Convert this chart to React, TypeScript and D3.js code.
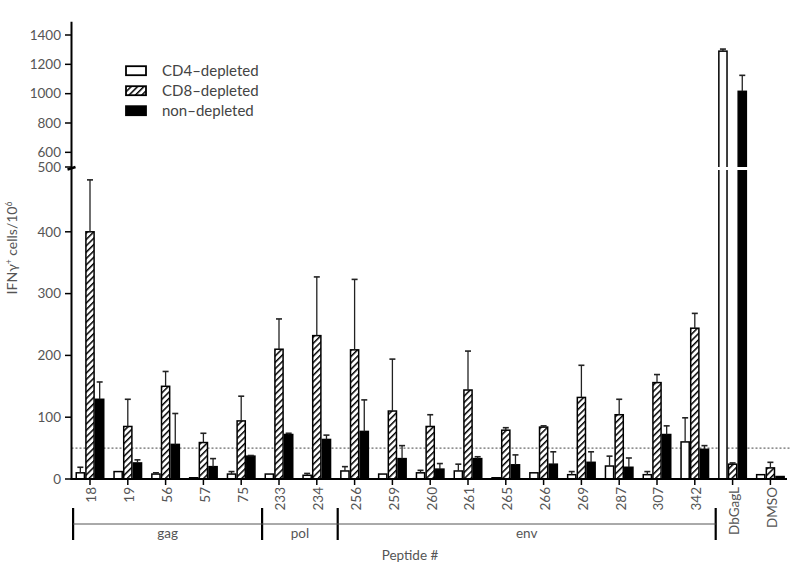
import React from 'react';
import * as d3 from 'd3';

const categories = ['18', '19', '56', '57', '75', '233', '234', '256', '259', '260', '261', '265', '266', '269', '287', '307', '342', 'DbGagL', 'DMSO'];
const cd4Depleted = [10, 12, 8, 2, 8, 8, 6, 13, 8, 10, 13, 2, 10, 7, 21, 7, 60, 1290, 7];
const cd4Sem = [9, 0, 2, 0, 4, 0, 3, 7, 0, 4, 11, 0, 0, 5, 16, 5, 39, 14, 0];
const cd8Depleted = [400, 85, 150, 59, 94, 210, 232, 209, 110, 85, 144, 79, 84, 132, 104, 156, 244, 24, 18];
const cd8Sem = [84, 44, 24, 15, 40, 49, 95, 114, 84, 19, 63, 4, 2, 52, 25, 13, 24, 2, 9];
const nonDepleted = [129, 26, 56, 20, 37, 72, 64, 77, 33, 16, 33, 23, 24, 27, 19, 72, 48, 1016, 4];
const nonSem = [28, 5, 50, 13, 1, 2, 7, 51, 21, 9, 3, 16, 20, 17, 15, 14, 6, 109, 0];

const groupNames = ['gag', 'pol', 'env'];
const groupSizes = [5, 2, 10];
const yTicksLow = [0, 100, 200, 300, 400];
const yTicksHigh = [500, 600, 800, 1000, 1200, 1400];
const seriesNames = ['CD4\u2013depleted', 'CD8\u2013depleted', 'non\u2013depleted'];
const threshold = 50;

const FONT = "Lato, 'Open Sans', sans-serif";
const TXT = '#555';

export default function App() {
  const x = d3.scalePoint<string>().domain(categories).range([90, 770.4]);
  const step = x.step();
  const sub = d3.scaleBand<number>().domain([0, 1, 2]).range([-14.5, 14.5]);
  const bw = sub.bandwidth();
  const yLow = d3.scaleLinear().domain([0, 500]).range([479, 170]);
  const yHigh = d3.scaleLinear().domain([500, 1400]).range([167, 35]);
  const y = (v: number) => (v <= 500 ? yLow(v) : yHigh(v));
  const base = yLow(0);
  const axisX = 71.5;

  const series = [
    { vals: cd4Depleted, sem: cd4Sem, fill: '#fff' },
    { vals: cd8Depleted, sem: cd8Sem, fill: 'url(#hatch)' },
    { vals: nonDepleted, sem: nonSem, fill: '#000' },
  ];

  const bounds: number[] = [];
  let idx = 0;
  bounds.push(x(categories[0])! - step / 2 + 2);
  groupSizes.forEach((s) => {
    idx += s;
    bounds.push(x(categories[idx - 1])! + step / 2 + 2);
  });

  return (
    <svg width={800} height={572} style={{ position: 'absolute', left: 0, top: 0, background: '#fff' }} fontFamily={FONT}>
      <defs>
        <pattern id="hatch" patternUnits="userSpaceOnUse" width={4.5} height={4.5} patternTransform="rotate(45)">
          <rect width={4.5} height={4.5} fill="#fff" />
          <line x1={0} y1={0} x2={0} y2={4.5} stroke="#000" strokeWidth={3} />
        </pattern>
      </defs>

      <line x1={axisX} x2={790} y1={yLow(threshold)} y2={yLow(threshold)} stroke="#444" strokeWidth={1} strokeDasharray="2,2" />

      {series.map((s, si) =>
        categories.map((c, i) => {
          const v = s.vals[i];
          const bx = x(c)! + sub(si)!;
          return (
            <rect key={`b${si}-${i}`} x={bx + 0.75} width={bw - 1.5} y={y(v)} height={Math.max(0, base - y(v))}
              fill={s.fill} stroke="#000" strokeWidth={1.5} />
          );
        })
      )}

      {series.map((s, si) =>
        categories.map((c, i) => {
          const v = s.vals[i];
          const e = s.sem[i];
          if (e <= 0) return null;
          const cx = x(c)! + sub(si)! + bw / 2;
          return (
            <g key={`e${si}-${i}`} stroke="#222" strokeWidth={1.3}>
              <line x1={cx} x2={cx} y1={y(v)} y2={y(v + e)} />
              <line x1={cx - 3} x2={cx + 3} y1={y(v + e)} y2={y(v + e)} strokeWidth={1.6} />
            </g>
          );
        })
      )}

      <rect x={axisX + 1} width={720} y={167} height={3} fill="#fff" />

      <line x1={axisX} x2={axisX} y1={yHigh(1490)} y2={base + 1} stroke="#000" strokeWidth={2} />
      <line x1={axisX - 4} x2={axisX + 4} y1={169.5} y2={167} stroke="#000" strokeWidth={2.5} />
      {yTicksLow.map((t) => (
        <g key={`tl${t}`}>
          <line x1={65} x2={axisX} y1={yLow(t)} y2={yLow(t)} stroke="#000" strokeWidth={1.5} />
          <text x={61} y={yLow(t)} dy="0.35em" textAnchor="end" fontSize={13.5} fill={TXT}>{t}</text>
        </g>
      ))}
      {yTicksHigh.map((t) => (
        <g key={`th${t}`}>
          <line x1={65} x2={axisX} y1={yHigh(t)} y2={yHigh(t)} stroke="#000" strokeWidth={1.5} />
          <text x={61} y={yHigh(t)} dy="0.35em" textAnchor="end" fontSize={13.5} fill={TXT}>{t}</text>
        </g>
      ))}
      <text transform={`translate(17,248) rotate(-90)`} textAnchor="middle" fontSize={14} fill={TXT}>
        IFNγ<tspan fontSize={8.5} dy={-5}>+</tspan><tspan dy={5}> cells/10</tspan><tspan fontSize={8.5} dy={-5}>6</tspan>
      </text>

      <line x1={axisX - 1} x2={787} y1={base} y2={base} stroke="#000" strokeWidth={2} />
      {categories.map((c) => (
        <g key={`xt${c}`}>
          <line x1={x(c)!} x2={x(c)!} y1={base} y2={base + 6} stroke="#000" strokeWidth={1.5} />
          <text transform={`translate(${x(c)! + 1.5},${487}) rotate(-90)`} textAnchor="end" dy="0.36em" fontSize={13.5} fill={TXT}>{c}</text>
        </g>
      ))}

      {bounds.map((bx, i) => (
        <line key={`gb${i}`} x1={bx} x2={bx} y1={508} y2={540} stroke="#000" strokeWidth={2.2} />
      ))}
      <line x1={bounds[0]} x2={bounds[bounds.length - 1]} y1={524} y2={524} stroke="#555" strokeWidth={1} />
      {groupNames.map((g, i) => (
        <text key={`gn${g}`} x={(bounds[i] + bounds[i + 1]) / 2} y={538} textAnchor="middle" fontSize={13.5} fill={TXT}>{g}</text>
      ))}
      <text x={410} y={560} textAnchor="middle" fontSize={13.5} fill={TXT}>Peptide #</text>

      {seriesNames.map((n, i) => (
        <g key={`lg${i}`} transform={`translate(126,${70.7 + i * 20})`}>
          <rect x={0} y={-4.5} width={20} height={9} fill={series[i].fill} stroke="#000" strokeWidth={1.8} />
          <text x={36} y={0} dy="0.35em" fontSize={15} fill="#444">{n}</text>
        </g>
      ))}
    </svg>
  );
}
